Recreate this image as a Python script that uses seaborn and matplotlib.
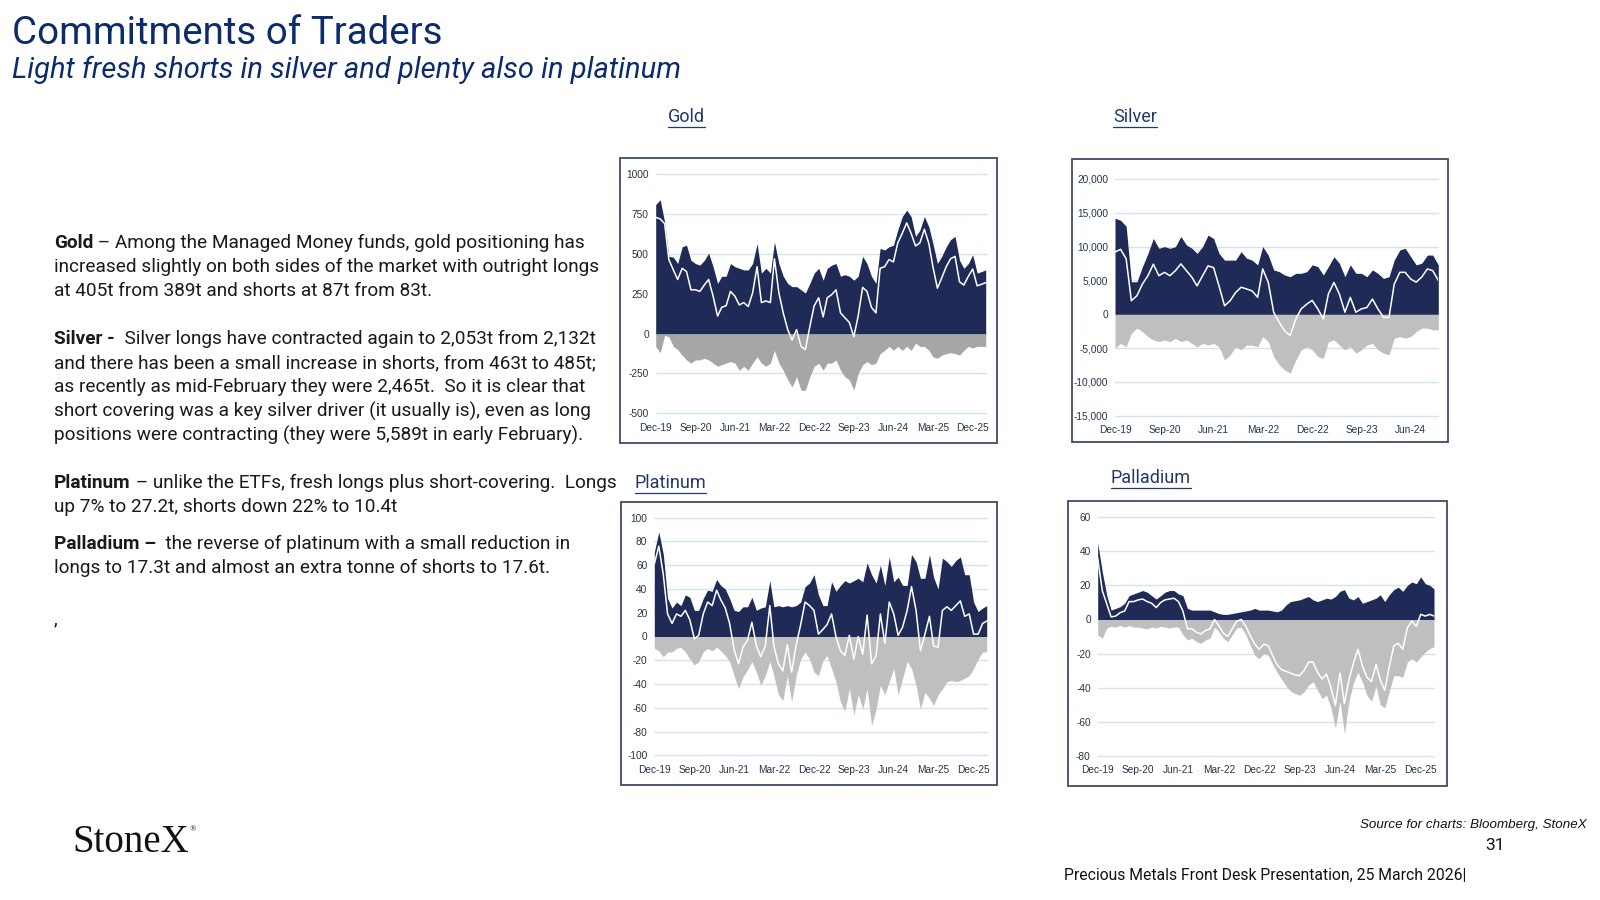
import pandas as pd
import matplotlib.pyplot as plt
import seaborn as sns
from matplotlib.patches import Rectangle
from matplotlib.lines import Line2D

sns.set_theme(style="white")
plt.rcParams["font.family"] = ["Roboto", "DejaVu Sans"]

# --- Managed money positions, monthly (tonnes) ---
gold_long = [810, 840, 700, 485, 480, 440, 545, 555, 460, 440,
             430, 460, 505, 420, 315, 360, 360, 440, 420, 410,
             400, 400, 440, 565, 380, 410, 380, 575, 440, 360,
             315, 295, 295, 275, 255, 315, 380, 410, 335, 410,
             430, 440, 360, 370, 360, 335, 360, 485, 440, 360,
             315, 535, 525, 545, 555, 650, 735, 775, 735, 610,
             650, 735, 670, 565, 440, 485, 545, 590, 610, 460,
             410, 440, 495, 380, 390, 400]
gold_short = [-80, -120, -10, -20, -80, -100, -135, -165, -185, -165,
              -165, -155, -165, -185, -205, -195, -185, -175, -185, -230,
              -205, -230, -185, -145, -185, -205, -185, -105, -185, -230,
              -290, -335, -270, -355, -355, -270, -205, -185, -230, -185,
              -185, -165, -230, -270, -290, -355, -250, -195, -175, -195,
              -185, -125, -105, -80, -105, -80, -105, -80, -105, -60,
              -80, -80, -105, -145, -155, -135, -125, -120, -125, -135,
              -105, -80, -90, -80, -80, -80]

silver_long = [14200, 13900, 13000, 4800, 4800, 7000, 9000, 11200, 9750, 10000,
               9750, 10000, 11500, 10250, 9750, 9000, 10000, 11700, 11200, 9000,
               8000, 8000, 8000, 9250, 8300, 8000, 7300, 10000, 8750, 6550,
               6300, 5800, 5550, 6050, 6050, 6300, 7300, 7050, 5800, 7050,
               8500, 7550, 5550, 7300, 6050, 6050, 5550, 6550, 6050, 5300,
               5550, 8000, 9500, 9750, 8500, 7300, 7550, 8750, 8750, 7300]
silver_short = [-5000, -4300, -4800, -2800, -2050, -2550, -3300, -3800, -4050, -3800,
                -4050, -3550, -4050, -3800, -4300, -4800, -4300, -4550, -4300, -4800,
                -6750, -6000, -4800, -5250, -4550, -4550, -4800, -3300, -4050, -6250,
                -7500, -8250, -8700, -6750, -5250, -4800, -5250, -6250, -6500, -4050,
                -3800, -4550, -5250, -4800, -5750, -5250, -4550, -4300, -5250, -5750,
                -6000, -3550, -3300, -3550, -3300, -2550, -2050, -2050, -2300, -2300]

plat_long = [71, 88, 69, 32, 24, 29, 26, 35, 33, 22,
             22, 32, 39, 38, 48, 43, 40, 32, 22, 21,
             25, 25, 33, 22, 24, 25, 47, 25, 26, 25,
             26, 25, 26, 29, 42, 45, 52, 35, 26, 26,
             46, 38, 43, 47, 45, 47, 49, 46, 62, 52,
             45, 60, 43, 67, 46, 50, 43, 43, 69, 63,
             49, 49, 69, 50, 40, 66, 63, 59, 64, 67,
             52, 52, 29, 21, 24, 26]
plat_short = [-10, -12, -17, -13, -13, -10, -9, -13, -19, -24,
              -21, -13, -10, -12, -9, -12, -16, -21, -33, -44,
              -34, -28, -21, -30, -41, -33, -21, -33, -49, -54,
              -33, -55, -33, -19, -13, -19, -30, -33, -20, -16,
              -27, -38, -55, -63, -44, -66, -49, -61, -44, -75,
              -61, -41, -49, -38, -27, -49, -35, -21, -27, -41,
              -61, -47, -52, -58, -49, -44, -38, -37, -38, -37,
              -35, -33, -27, -19, -13, -13]

pall_long = [45, 28, 14, 5.5, 6.5, 7.5, 9.5, 14, 15, 16,
             17, 16, 14, 12, 14, 16, 17, 17, 15, 14,
             6.5, 5.5, 5.5, 5.5, 5.5, 5.5, 4.5, 3.5, 3, 3,
             3.5, 4, 4.5, 5, 5.5, 6.5, 5.5, 5.5, 5.5, 5,
             4.5, 5.5, 8.5, 10.5, 11, 11.5, 12.5, 13.5, 11.5, 10.5,
             11.5, 12.5, 12, 13.5, 16.5, 17.5, 12.5, 11.5, 13.5, 9.5,
             10.5, 11.5, 12.5, 14.5, 10.5, 14.5, 17.5, 19, 16.5, 20,
             22, 21, 25, 21, 20, 18]
pall_short = [-9, -11, -5, -4, -4.5, -3.5, -4.5, -3.5, -4.5, -4.5,
              -5, -5.5, -4.5, -5, -4, -4.5, -5, -4.5, -4.5, -9,
              -12, -11, -13, -14, -12, -11, -4.5, -7, -11, -13,
              -9, -5, -4.5, -9, -15, -21, -23, -20, -21, -26,
              -31, -35, -39, -42, -43.5, -44.5, -42.5, -38.5, -36.5, -41.5,
              -46.5, -44.5, -52, -64, -48, -67, -48, -37, -31, -37,
              -44.5, -48, -39, -50, -52, -42.5, -33, -33, -34, -25,
              -23, -25, -22, -19, -17, -16]

gold_ticks = [-500, -250, 0, 250, 500, 750, 1000]
silver_ticks = [-15000, -10000, -5000, 0, 5000, 10000, 15000, 20000]
plat_ticks = [-100, -80, -60, -40, -20, 0, 20, 40, 60, 80, 100]
pall_ticks = [-80, -60, -40, -20, 0, 20, 40, 60]

NAVY = "#1f2a56"
TICK_COL = "#243447"
GRID_COL = "#d3e3f3"
W, H = 1600, 900

fig = plt.figure(figsize=(16, 9), dpi=100)
fig.patch.set_facecolor("white")


def fx(x):
    return x / W


def fy(y):
    return 1 - y / H


def panel(box, plot, longs, shorts, yticks, grey, comma=False):
    # frame around the chart
    bx0, by0, bx1, by1 = box
    fig.add_artist(Rectangle((fx(bx0), fy(by1)), fx(bx1 - bx0), (by1 - by0) / H,
                             transform=fig.transFigure, fill=False,
                             edgecolor="#3e4c63", lw=1.3))
    x0, y0, x1, y1 = plot
    ax = fig.add_axes([fx(x0), fy(y1), fx(x1 - x0), (y1 - y0) / H])
    dates = pd.date_range("2019-12-01", periods=len(longs), freq="MS")
    df = pd.DataFrame({"date": dates, "long": longs, "short": shorts})
    df["net"] = df["long"] + df["short"]

    ax.fill_between(df["date"], df["short"], 0, color=grey, lw=0, zorder=2)
    ax.fill_between(df["date"], 0, df["long"], color=NAVY, lw=0, zorder=3)
    sns.lineplot(data=df, x="date", y="net", ax=ax, color="white", lw=1.1, zorder=4)

    ax.set_xlim(dates[0], dates[-1])
    ax.set_ylim(yticks[0], yticks[-1])
    ax.set_yticks(yticks)
    if comma:
        ax.set_yticklabels([f"{v:,}" for v in yticks])
    else:
        ax.set_yticklabels([str(v) for v in yticks])
    xt = [d for d in pd.date_range("2019-12-01", periods=9, freq="9MS") if d <= dates[-1]]
    ax.set_xticks(xt)
    ax.set_xticklabels([d.strftime("%b-%y") for d in xt])
    ax.set_xlabel("")
    ax.set_ylabel("")
    ax.tick_params(length=0, labelsize=7.3, colors=TICK_COL,
                   labelfontfamily="Liberation Sans")
    ax.tick_params(axis="x", pad=7)
    ax.tick_params(axis="y", pad=5)
    ax.yaxis.grid(True, color=GRID_COL, lw=1)
    ax.xaxis.grid(False)
    for gl in ax.get_ygridlines():
        gl.set_clip_on(False)
    ax.set_axisbelow(True)
    ax.set_facecolor("none")
    sns.despine(ax=ax, left=True, bottom=True)
    return ax


panel((620, 158, 997, 443), (655.7, 174.3, 985.7, 413.3),
      gold_long, gold_short, gold_ticks, "#a6a6a6")
panel((1072, 159, 1448, 442), (1115, 179, 1438.3, 415.7),
      silver_long, silver_short, silver_ticks, "#bfbfbf", comma=True)
panel((621, 502, 997, 785), (654.3, 517.7, 986.7, 755.3),
      plat_long, plat_short, plat_ticks, "#bfbfbf")
panel((1068, 501, 1447, 786), (1097.7, 517.3, 1434, 755.7),
      pall_long, pall_short, pall_ticks, "#bfbfbf")

renderer = fig.canvas.get_renderer()

# headings
fig.text(fx(12), fy(34), "Commitments of Traders", fontsize=27.7, color="#0c2b6b",
         va="center", ha="left")
fig.text(fx(12), fy(70), "Light fresh shorts in silver and plenty also in platinum",
         fontsize=21, style="italic", color="#0c2b6b", va="center", ha="left")

# chart titles, underlined
for label, cx, cy in [("Gold", 686.7, 117.3), ("Silver", 1134.7, 117.3),
                      ("Platinum", 670.4, 482.6), ("Palladium", 1151, 477.6)]:
    t = fig.text(fx(cx), fy(cy), label, fontsize=13, color="#22376c",
                 ha="center", va="center")
    bb = t.get_window_extent(renderer)
    fig.add_artist(Line2D([bb.x0 / W, bb.x1 / W], [(bb.y0 - 1) / H, (bb.y0 - 1) / H],
                          transform=fig.transFigure, color="#22376c", lw=0.9))

# commentary on the left
BODY = 13.7
TXT = "#1a1a1a"


def line(y, rest, bold=None):
    x = fx(54)
    if bold:
        b = fig.text(x, fy(y), bold, fontsize=BODY, weight="bold", color=TXT,
                     ha="left", va="center")
        x = b.get_window_extent(renderer).x1 / W
    fig.text(x, fy(y), rest, fontsize=BODY, color=TXT, ha="left", va="center")


line(243, " \u2013 Among the Managed Money funds, gold positioning has", "Gold")
line(267, "increased slightly on both sides of the market with outright longs")
line(291, "at 405t from 389t and shorts at 87t from 83t.")
line(339, "  Silver longs have contracted again to 2,053t from 2,132t", "Silver -")
line(363, "and there has been a small increase in shorts, from 463t to 485t;")
line(387, "as recently as mid-February they were 2,465t.  So it is clear that")
line(411, "short covering was a key silver driver (it usually is), even as long")
line(435, "positions were contracting (they were 5,589t in early February).")
line(483, " \u2013 unlike the ETFs, fresh longs plus short-covering.  Longs", "Platinum")
line(507, "up 7% to 27.2t, shorts down 22% to 10.4t")
line(544, "  the reverse of platinum with a small reduction in", "Palladium \u2013")
line(568, "longs to 17.3t and almost an extra tonne of shorts to 17.6t.")
line(619, ",")

# footer
fig.text(fx(72), fy(842), "StoneX", fontsize=28, family=["Liberation Serif", "DejaVu Serif"],
         color="#111111", ha="left", va="center")
fig.text(fx(190), fy(829), "\u00ae", fontsize=6, family=["Liberation Serif", "DejaVu Serif"],
         color="#111111", ha="left", va="center")
fig.text(fx(1587), fy(825), "Source for charts: Bloomberg, StoneX", fontsize=9.6,
         style="italic", family=["Liberation Sans", "DejaVu Sans"], color="#111111",
         ha="right", va="center")
fig.text(fx(1495), fy(845), "31", fontsize=12.5, color="#111111", ha="center", va="center")
fig.text(fx(1064), fy(875), "Precious Metals Front Desk Presentation, 25 March 2026|",
         fontsize=11.3, color="#111111", ha="left", va="center")

fig.savefig("out.png", dpi=100)
